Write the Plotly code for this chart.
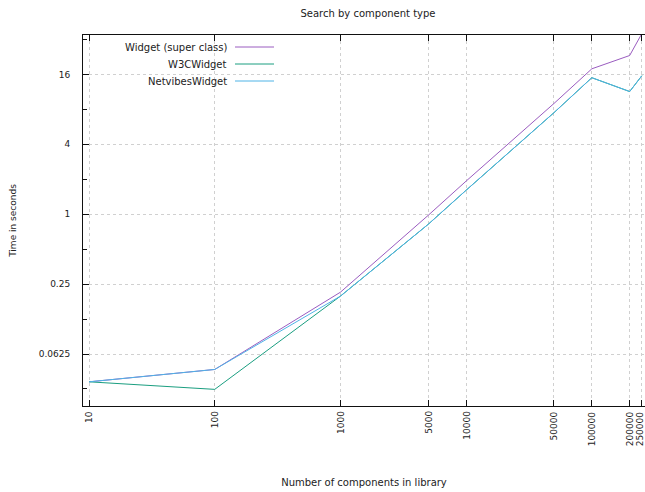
import math
import plotly.graph_objects as go

# Library sizes (number of components) and measured search times in seconds
components = [10, 100, 1000, 5000, 10000, 50000, 100000, 200000, 250000]
widget_times = [0.036, 0.046, 0.213, 0.98, 1.93, 9.0, 17.9, 23.3, 36.0]
w3c_times = [0.036, 0.031, 0.197, 0.82, 1.61, 7.5, 15.0, 11.4, 15.6]
netvibes_times = [0.036, 0.046, 0.197, 0.82, 1.61, 7.5, 15.0, 11.4, 15.6]

series_names = ["Widget (super class)", "W3CWidget", "NetvibesWidget"]
series_colors = ["#9a5cc0", "#1a9e80", "#4fb3e6"]

x_tickvals = components
x_ticktext = ["10", "100", "1000", "5000", "10000", "50000", "100000", "200000", "250000"]
y_tickvals = [0.0625, 0.25, 1, 4, 16]
y_ticktext = ["0.0625", "0.25", "1", "4", "16"]
y_minor = [0.03125, 0.125, 0.5, 2, 8, 32]

W, H = 645, 492
L, R, T, B = 83, 0, 35, 86
FONT = "DejaVu Sans"
TXT = "#222"

fig = go.Figure()
for name, ys, col in zip(series_names, [widget_times, w3c_times, netvibes_times], series_colors):
    fig.add_trace(go.Scatter(x=components, y=ys, mode="lines", name=name,
                             line=dict(color=col, width=1), showlegend=False))

# Key drawn in gnuplot style: label right-aligned, line sample to its right
plot_w = W - L - R
plot_h = H - T - B


def px_to_paper(px, py):
    return (px - L) / plot_w, (H - B - py) / plot_h


for i, (name, col) in enumerate(zip(series_names, series_colors)):
    row_y = 47 + i * 17
    tx, ty = px_to_paper(229, row_y)
    fig.add_annotation(x=tx, y=ty, xref="paper", yref="paper", text=name,
                       showarrow=False, xanchor="right", yanchor="middle",
                       font=dict(family=FONT, size=10, color=TXT))
    x0, y0 = px_to_paper(235, row_y)
    x1, _ = px_to_paper(274, row_y)
    fig.add_shape(type="line", xref="paper", yref="paper", x0=x0, x1=x1, y0=y0, y1=y0,
                  line=dict(color=col, width=1))

# Tick labels are written by hand so that the two closely spaced right-most
# labels are both kept (the axis would otherwise drop one of them).
# On a log axis, annotation x positions are given in log10 units.
for k, (xv, lab) in enumerate(zip(x_tickvals, x_ticktext)):
    last = k == len(x_tickvals) - 1
    fig.add_annotation(x=math.log10(xv), y=(H - B - 409) / plot_h, xref="x", yref="paper",
                       text=lab, showarrow=False, textangle=-90,
                       xanchor="center", yanchor="top", xshift=-2 if last else 0,
                       font=dict(family=FONT, size=9, color=TXT))

fig.update_layout(
    width=W, height=H,
    margin=dict(l=L, r=R, t=T, b=B),
    paper_bgcolor="white", plot_bgcolor="white",
    font=dict(family=FONT, size=9, color=TXT),
    title=dict(text="Search by component type", x=368 / W, xanchor="center",
               y=1 - 13 / H, yanchor="middle", font=dict(family=FONT, size=10, color=TXT)),
)

fig.update_xaxes(
    type="log", range=[0.952, 5.423],
    tickmode="array", tickvals=x_tickvals, showticklabels=False,
    ticks="inside", ticklen=6, tickcolor="#111", tickwidth=1,
    showline=True, linecolor="#111", linewidth=1, mirror="ticks",
    showgrid=True, gridcolor="#d0d0d0", griddash="dot", gridwidth=1,
    zeroline=False,
    title=dict(text="Number of components in library", standoff=72,
               font=dict(family=FONT, size=10, color=TXT)),
)

fig.update_yaxes(
    type="log", range=[-1.652, 1.544],
    tickmode="array", tickvals=y_tickvals, ticktext=y_ticktext,
    ticks="inside", ticklen=6, tickcolor="#111", tickwidth=1,
    minor=dict(tickvals=y_minor, ticks="inside", ticklen=4, tickcolor="#111", showgrid=False),
    showline=True, linecolor="#111", linewidth=1,
    showgrid=True, gridcolor="#d0d0d0", griddash="dot", gridwidth=1,
    zeroline=False, ticklabelstandoff=10,
    tickfont=dict(family=FONT, size=9, color=TXT),
    title=dict(text="Time in seconds", standoff=20,
               font=dict(family=FONT, size=9, color=TXT)),
)

fig.write_html("out.html")
